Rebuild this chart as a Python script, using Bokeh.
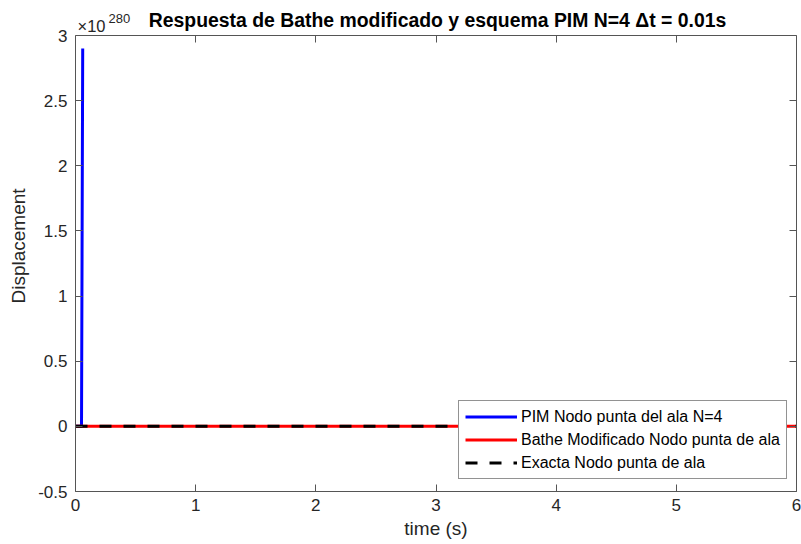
from bokeh.plotting import figure
from bokeh.models import (Label, Legend, LegendItem, LinearAxis, FixedTicker, Range1d)
from bokeh.embed import file_html
from bokeh.resources import INLINE

# ---- data (displacements in units of 1e280) ----
t_pim = [0.0, 0.01, 0.02, 0.03, 0.04, 0.05, 0.06]
u_pim = [0.0, 0.0, 0.0, 0.0, 0.0, 0.0, 2.9]
t_bathe = [0.0, 1.0, 2.0, 3.0, 4.0, 5.0, 6.0]
u_bathe = [0.0, 0.0, 0.0, 0.0, 0.0, 0.0, 0.0]
t_exact = [0.0, 1.0, 2.0, 3.0, 4.0, 5.0, 6.0]
u_exact = [0.0, 0.0, 0.0, 0.0, 0.0, 0.0, 0.0]
x_ticks = [0, 1, 2, 3, 4, 5, 6]
y_ticks = [-0.5, 0, 0.5, 1, 1.5, 2, 2.5, 3]
y_labels = {-0.5: "-0.5", 0: "0", 0.5: "0.5", 1: "1", 1.5: "1.5", 2: "2", 2.5: "2.5", 3: "3"}
x_lim = (0, 6)
y_lim = (-0.5, 3)
title = "Respuesta de Bathe modificado y esquema PIM N=4 \u0394t = 0.01s"
names = ["PIM Nodo punta del ala N=4", "Bathe Modificado Nodo punta de ala", "Exacta Nodo punta de ala"]
exp_base = "\u00d710"
exp_power = "280"

FONT = "Liberation Sans"
AX = "#262626"
AXL = "#555555"
W, H = 801, 544
LEFT, RIGHT, TOP, BOTTOM = 75, 5, 35, 53

# frame covers the header too; the visible box is bounded by the axes
box_h = H - TOP - BOTTOM
ppu = box_h / (y_lim[1] - y_lim[0])
y_top = y_lim[1] + TOP / ppu

p = figure(width=W, height=H, output_backend="svg", toolbar_location=None,
           title_location=None,
           x_range=Range1d(*x_lim), y_range=Range1d(y_lim[0], y_top),
           min_border_left=LEFT, min_border_right=RIGHT, min_border_top=0,
           min_border_bottom=BOTTOM)
p.xgrid.visible = False
p.ygrid.visible = False
p.outline_line_color = None

def style_axis(ax, show_labels=True):
    ax.axis_line_color = AXL
    ax.axis_line_width = 1
    ax.major_tick_line_color = AXL
    ax.major_tick_in = 7
    ax.major_tick_out = 0
    ax.minor_tick_line_color = None
    ax.major_label_text_font = FONT
    ax.major_label_text_color = AX
    ax.major_label_text_font_size = "17px"
    ax.axis_label_text_font = FONT
    ax.axis_label_text_font_style = "normal"
    ax.axis_label_text_font_size = "19px"
    ax.axis_label_text_color = AX
    if not show_labels:
        ax.major_label_overrides = {t: "" for t in ax.ticker.ticks}
        ax.major_label_standoff = 0

xa = p.xaxis[0]
xa.ticker = FixedTicker(ticks=x_ticks)
xa.axis_label = "time (s)"
style_axis(xa)
xa.major_label_standoff = 7
xa.axis_label_standoff = 4

ya = p.yaxis[0]
ya.ticker = FixedTicker(ticks=y_ticks)
ya.major_label_overrides = y_labels
ya.axis_label = "Displacement"
ya.bounds = y_lim
style_axis(ya)
ya.major_label_standoff = 8
ya.axis_label_standoff = 6

top = LinearAxis(ticker=FixedTicker(ticks=x_ticks), fixed_location=y_lim[1])
style_axis(top, False)
p.add_layout(top, "above")
right = LinearAxis(ticker=FixedTicker(ticks=y_ticks), bounds=y_lim)
style_axis(right, False)
p.add_layout(right, "right")

r1 = p.line(t_pim, u_pim, line_color="#0000ff", line_width=3)
r2 = p.line(t_bathe, u_bathe, line_color="#ff0000", line_width=3)
r3 = p.line(t_exact, u_exact, line_color="black", line_width=3, line_dash="12 12")

legend = Legend(items=[LegendItem(label=names[0], renderers=[r1]),
                       LegendItem(label=names[1], renderers=[r2]),
                       LegendItem(label=names[2], renderers=[r3])],
                location=(383, 12), glyph_width=52, glyph_height=19, label_height=19,
                label_text_font=FONT, label_text_font_size="16px", label_text_color="black",
                label_standoff=4, spacing=4, padding=6, margin=0,
                border_line_color=AX, border_line_width=1, background_fill_alpha=1)
p.add_layout(legend, "center")

# header texts (screen units measured from the frame's bottom-left)
fb = H - BOTTOM
p.add_layout(Label(x=362, y=fb - 19.7, x_units="screen", y_units="screen", text=title,
                   text_font=FONT, text_font_size="19.4px", text_font_style="bold",
                   text_color="black", text_align="center", text_baseline="alphabetic"))
p.add_layout(Label(x=2, y=fb - 25.9, x_units="screen", y_units="screen", text=exp_base,
                   text_font=FONT, text_font_size="16.5px", text_color=AX,
                   text_align="left", text_baseline="alphabetic"))
p.add_layout(Label(x=33, y=fb - 18.0, x_units="screen", y_units="screen", text=exp_power,
                   text_font=FONT, text_font_size="13px", text_color=AX,
                   text_align="left", text_baseline="alphabetic"))

open("out.html", "w").write(file_html(p, INLINE))
